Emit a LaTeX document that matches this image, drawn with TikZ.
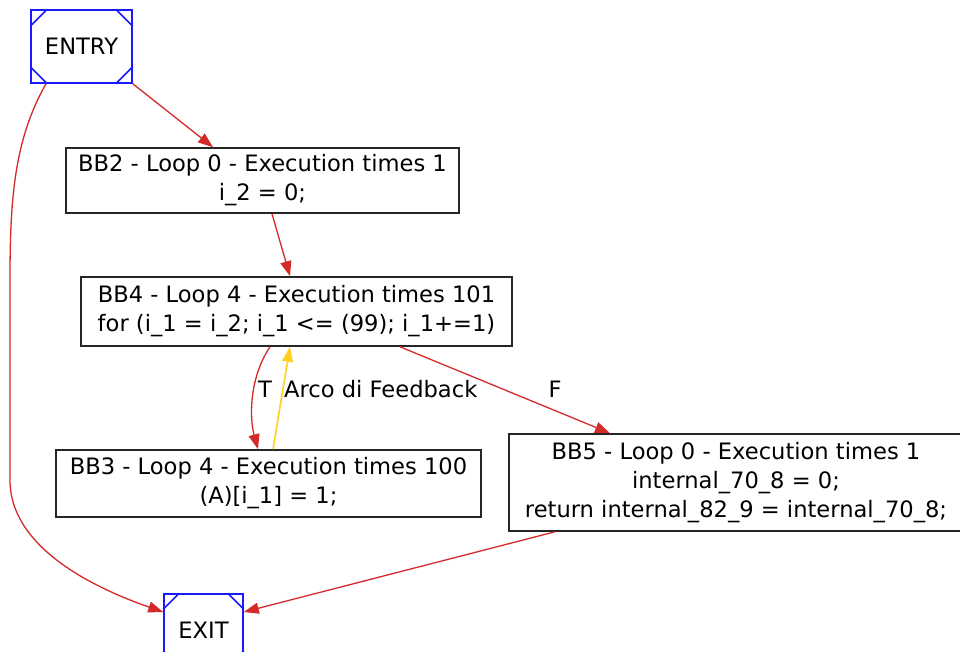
\documentclass[tikz,border=0pt]{standalone}
\usepackage{fontspec}
\setmainfont{DejaVu Sans}
\usetikzlibrary{arrows.meta}
\definecolor{edgered}{HTML}{D42A2A}
\definecolor{fbyellow}{HTML}{FFD21F}
\definecolor{termblue}{HTML}{1A1AFF}
\tikzset{
  bb/.style={draw=black!85, line width=1.6pt, fill=white, align=center, inner sep=0pt,
             font=\fontsize{22.6}{29}\selectfont},
  term/.style={draw=termblue, line width=1.6pt, fill=white, inner sep=0pt,
             font=\fontsize{22.6}{26}\selectfont},
  corner/.style={draw=termblue, line width=1.6pt},
  edge/.style={draw=edgered, line width=1.3pt, -{Triangle[length=15pt,width=11pt]}},
  fb/.style={draw=fbyellow, line width=1.6pt, -{Triangle[length=15pt,width=11pt]}},
  elabel/.style={font=\fontsize{22.6}{26}\selectfont, inner sep=0pt}
}
\begin{document}
\begin{tikzpicture}[x=1pt,y=-1pt]
\useasboundingbox (0,0) rectangle (960,652);
\clip (0,0) rectangle (960,652);
\fill[white] (0,0) rectangle (960,652);

% nodes
\node[term, minimum width=101pt, minimum height=73pt] (entry) at (81.5,46.5) {ENTRY};
\node[bb, minimum width=393pt, minimum height=65pt] (bb2) at (262.5,180.5)
  {\rule[-5pt]{0pt}{1pt}BB2 - Loop 0 - Execution times 1\\ i\_2 = 0;};
\node[bb, minimum width=431pt, minimum height=69pt] (bb4) at (296.5,311.5)
  {\rule[-5pt]{0pt}{1pt}BB4 - Loop 4 - Execution times 101\\ for (i\_1 = i\_2; i\_1 <= (99); i\_1+=1)};
\node[bb, minimum width=425pt, minimum height=67pt] (bb3) at (268.5,483.5)
  {\rule[-5pt]{0pt}{1pt}BB3 - Loop 4 - Execution times 100\\ (A)[i\_1] = 1;};
\node[bb, minimum width=454pt, minimum height=97pt] (bb5) at (736,482.5)
  {\rule[-5pt]{0pt}{1pt}BB5 - Loop 0 - Execution times 1\\ internal\_70\_8 = 0;\\ return internal\_82\_9 = internal\_70\_8;};
\node[term, minimum width=79pt, minimum height=72pt] (exit) at (203.5,630) {EXIT};

% Msquare corner marks
\foreach \n/\d in {entry/17, exit/16}{
  \draw[corner] ([yshift=-\d pt]\n.north west) -- ([xshift=\d pt]\n.north west);
  \draw[corner] ([yshift=-\d pt]\n.north east) -- ([xshift=-\d pt]\n.north east);
  \draw[corner] ([yshift=\d pt]\n.south west) -- ([xshift=\d pt]\n.south west);
  \draw[corner] ([yshift=\d pt]\n.south east) -- ([xshift=-\d pt]\n.south east);
}

% edges
\draw[edge] (entry.south east) -- ([xshift=-49.5pt]bb2.north);
\draw[edge] ([xshift=-35.5pt]entry.south) .. controls (14,140) and (10,200) .. (10,280)
  -- (10,480) .. controls (10,550) and (100,590) .. ([yshift=18pt]exit.west);
\draw[edge] ([xshift=9.5pt]bb2.south) -- ([xshift=-6.5pt]bb4.north);
\draw[edge] ([xshift=-26.5pt]bb4.south) .. controls (248,380) and (250,420) .. ([xshift=-10.5pt]bb3.north);
\draw[fb] ([xshift=4.5pt]bb3.north) -- ([xshift=-6.5pt]bb4.south);
\draw[edge] ([xshift=103.5pt]bb4.south) -- ([xshift=-126pt]bb5.north);
\draw[edge] ([xshift=-181pt]bb5.south) -- ([yshift=18pt]exit.east);

% edge labels
\node[elabel] (lt) at (265,389) {T};
\node[elabel, anchor=west] (lfb) at (284,389) {Arco di Feedback};
\node[elabel] (lf) at (555,389) {F};
\end{tikzpicture}
\end{document}
